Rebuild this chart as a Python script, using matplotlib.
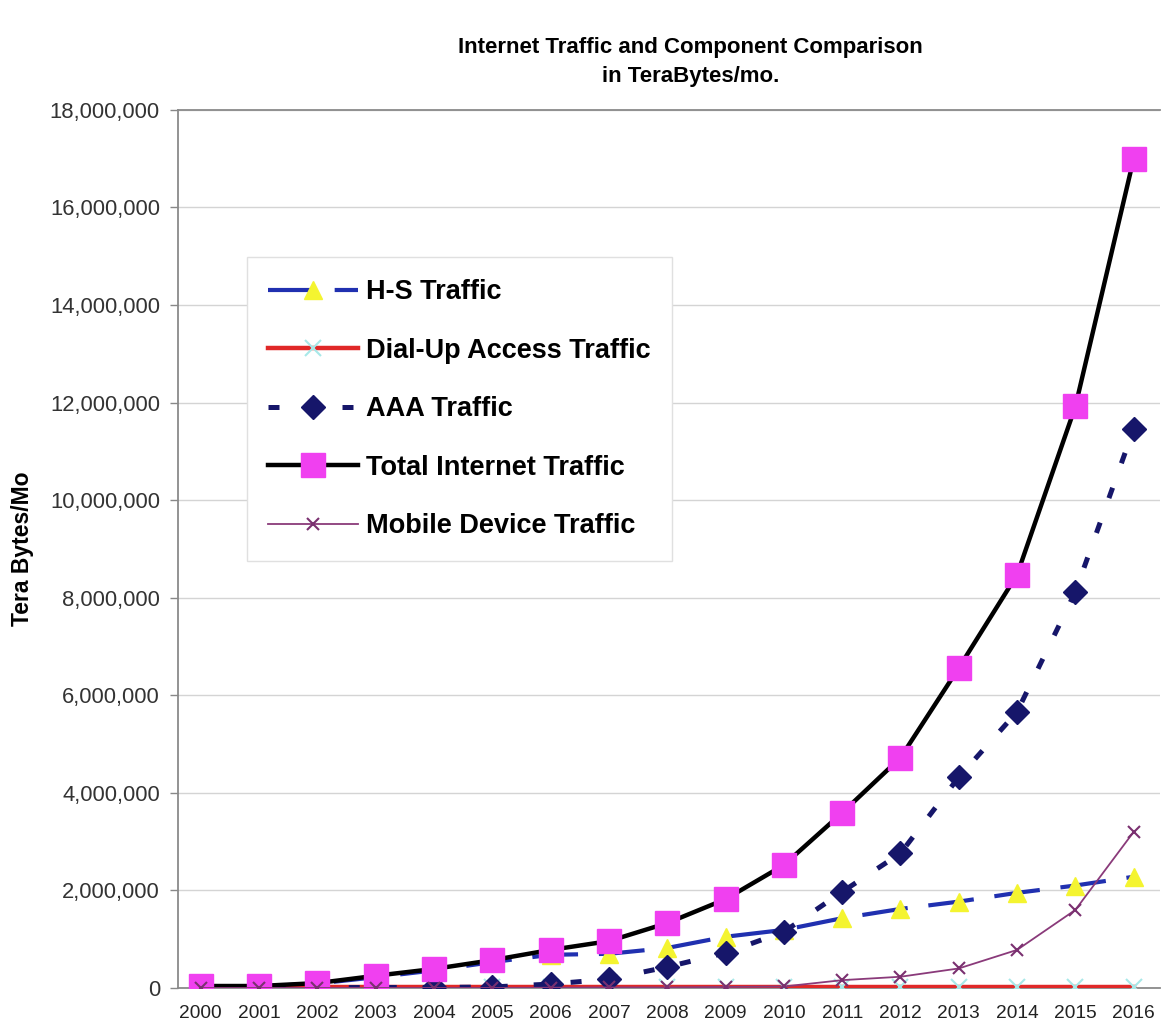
import matplotlib
matplotlib.use("Agg")
import matplotlib.pyplot as plt
from matplotlib.ticker import FuncFormatter

plt.rcParams['font.family'] = ['Liberation Sans', 'DejaVu Sans']

years = [str(y) for y in range(2000, 2017)]

hs_traffic = [0.01e6, 0.03e6, 0.09e6, 0.22e6, 0.36e6, 0.53e6, 0.68e6, 0.70e6, 0.82e6,
              1.05e6, 1.19e6, 1.43e6, 1.62e6, 1.77e6, 1.95e6, 2.10e6, 2.28e6]
dialup_traffic = [0.01e6] * 17
aaa_traffic = [0, 0, 0.005e6, 0.01e6, 0.01e6, 0.02e6, 0.08e6, 0.18e6, 0.43e6,
               0.72e6, 1.15e6, 1.97e6, 2.76e6, 4.32e6, 5.66e6, 8.12e6, 11.46e6]
total_traffic = [0.04e6, 0.04e6, 0.10e6, 0.25e6, 0.39e6, 0.57e6, 0.78e6, 0.96e6, 1.33e6,
                 1.82e6, 2.52e6, 3.59e6, 4.72e6, 6.56e6, 8.47e6, 11.92e6, 17.0e6]
mobile_traffic = [0, 0, 0, 0, 0, 0, 0.005e6, 0.01e6, 0.01e6,
                  0.02e6, 0.03e6, 0.16e6, 0.23e6, 0.40e6, 0.78e6, 1.60e6, 3.20e6]

fig = plt.figure(figsize=(11.62, 10.33), dpi=100)
ax = fig.add_axes([0.1532, 0.0436, 0.845, 0.85])
x = list(range(len(years)))

ax.plot(x, hs_traffic, color='#2030b0', lw=3, dashes=(11, 5), marker='^',
        markersize=13, markerfacecolor='#f4f430', markeredgecolor='#f4f430',
        label='H-S Traffic', zorder=3)
ax.plot(x, dialup_traffic, color='#e02828', lw=3.2, marker='x', markersize=12,
        markeredgecolor='#a8e8e8', markeredgewidth=1.5,
        label='Dial-Up Access Traffic', zorder=4)
ax.plot(x, aaa_traffic, color='#16166a', lw=3.6, dashes=(2.2, 5.2), marker='D',
        markersize=12, markerfacecolor='#16166a', markeredgecolor='#16166a',
        label='AAA Traffic', zorder=5)
ax.plot(x, total_traffic, color='black', lw=3.2, marker='s', markersize=17,
        markerfacecolor='#f040f0', markeredgecolor='#f040f0',
        label='Total Internet Traffic', zorder=6)
ax.plot(x, mobile_traffic, color='#8a3a7a', lw=1.3, marker='x', markersize=8,
        markeredgecolor='#7a3070', markeredgewidth=1.5,
        label='Mobile Device Traffic', zorder=7)

ax.set_xlim(-0.39, 16.45)
ax.set_ylim(0, 18e6)
ax.set_xticks(x)
ax.set_xticklabels(years, fontsize=13.8, color='#222222')
ax.set_yticks([i * 2e6 for i in range(10)])
ax.yaxis.set_major_formatter(FuncFormatter(lambda v, p: f"{int(v):,}"))
ax.tick_params(axis='y', labelsize=15.8, labelcolor='#333333', color='#888888',
               length=6, width=1, pad=7)
ax.tick_params(axis='x', length=0, pad=12)
ax.yaxis.grid(True, color='#d4d4d4', lw=1)
ax.set_axisbelow(True)
ax.spines['right'].set_visible(False)
for s in ['left', 'top', 'bottom']:
    ax.spines[s].set_color('#8a8a8a')
    ax.spines[s].set_linewidth(1.3)

leg = ax.legend(loc='upper left', bbox_to_anchor=(0.070, 0.832), borderaxespad=0,
                prop={'weight': 'bold', 'size': 19.5}, numpoints=1,
                handlelength=3.3, handletextpad=0.3, labelspacing=1.2,
                borderpad=0.8, fancybox=False, framealpha=1)
leg.get_frame().set_edgecolor('#e0e0e0')
leg.get_frame().set_linewidth(1)

fig.text(0.594, 0.940, "Internet Traffic and Component Comparison\nin TeraBytes/mo.",
         ha='center', va='center', fontsize=16, fontweight='bold', linespacing=1.5)
fig.text(0.019, 0.4685, "Tera Bytes/Mo", rotation=90, ha='center', va='center',
         fontsize=16.5, fontweight='bold')

fig.savefig('out.png', dpi=100)
